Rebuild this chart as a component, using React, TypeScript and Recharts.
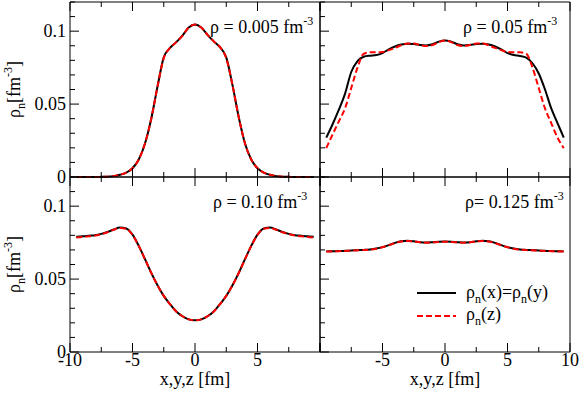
import React from 'react';
import { LineChart, Line, XAxis, YAxis, Legend } from 'recharts';

// sample positions along x (or z), fm
const positions = [
  -9.5, -9, -8.5, -8, -7.5, -7, -6.5, -6, -5.5, -5, -4.5, -4, -3.5, -3, -2.5, -2, -1.5, -1, -0.5, 0,
  0.5, 1, 1.5, 2, 2.5, 3, 3.5, 4, 4.5, 5, 5.5, 6, 6.5, 7, 7.5, 8, 8.5, 9, 9.5,
];

// rho = 0.005 fm^-3
const rho005X = [
  0, 0, 0, 0, 0.0001, 0.0002, 0.0006, 0.0015, 0.003, 0.006, 0.012, 0.023, 0.04, 0.062, 0.082, 0.0885, 0.0925, 0.097, 0.1025, 0.1045,
  0.1025, 0.0975, 0.093, 0.089, 0.082, 0.063, 0.041, 0.023, 0.012, 0.006, 0.003, 0.0015, 0.0006, 0.0002, 0.0001, 0, 0, 0, 0,
];
const rho005Z = [
  0, 0, 0, 0, 0.0001, 0.0002, 0.0006, 0.0015, 0.003, 0.006, 0.012, 0.023, 0.04, 0.062, 0.0815, 0.0885, 0.0925, 0.097, 0.1025, 0.1045,
  0.1025, 0.0975, 0.093, 0.089, 0.0815, 0.063, 0.041, 0.023, 0.012, 0.006, 0.003, 0.0015, 0.0006, 0.0002, 0.0001, 0, 0, 0, 0,
];

// rho = 0.05 fm^-3
const rho05X = [
  0.027, 0.036, 0.046, 0.057, 0.072, 0.0795, 0.0825, 0.0832, 0.0836, 0.085, 0.0875, 0.0895, 0.0908, 0.0914, 0.0912, 0.0905, 0.0902, 0.091, 0.0928, 0.0936,
  0.0928, 0.091, 0.0902, 0.0905, 0.0912, 0.0914, 0.0908, 0.0895, 0.0875, 0.085, 0.0836, 0.083, 0.0818, 0.078, 0.071, 0.06, 0.047, 0.037, 0.027,
];
const rho05Z = [
  0.0198, 0.029, 0.038, 0.047, 0.061, 0.075, 0.0845, 0.0855, 0.0855, 0.0857, 0.087, 0.0885, 0.0903, 0.0915, 0.0915, 0.0905, 0.0898, 0.0905, 0.0925, 0.0936,
  0.0925, 0.0905, 0.0898, 0.0905, 0.0915, 0.0915, 0.0903, 0.0885, 0.087, 0.0857, 0.0855, 0.0855, 0.0845, 0.075, 0.061, 0.047, 0.037, 0.027, 0.0198,
];

// rho = 0.10 fm^-3
const rho10X = [
  0.079, 0.0793, 0.0797, 0.0801, 0.081, 0.0823, 0.084, 0.0853, 0.0847, 0.0805, 0.0728, 0.0637, 0.0543, 0.0458, 0.0385, 0.0328, 0.0278, 0.0245, 0.0224, 0.0217,
  0.0224, 0.0245, 0.0278, 0.0328, 0.0385, 0.0458, 0.0543, 0.0637, 0.0728, 0.0805, 0.0847, 0.0853, 0.084, 0.0823, 0.081, 0.0801, 0.0797, 0.0793, 0.079,
];
const rho10Z = [
  0.0785, 0.0788, 0.0793, 0.0798, 0.0808, 0.0821, 0.0838, 0.085, 0.0845, 0.0803, 0.0727, 0.0636, 0.0542, 0.0457, 0.0385, 0.0328, 0.0278, 0.0245, 0.0224, 0.0217,
  0.0224, 0.0245, 0.0278, 0.0328, 0.0385, 0.0457, 0.0542, 0.0636, 0.0727, 0.0803, 0.0845, 0.085, 0.0838, 0.0821, 0.0808, 0.0798, 0.0793, 0.0788, 0.0785,
];

// rho = 0.125 fm^-3
const rho125X = [
  0.069, 0.0691, 0.0692, 0.0694, 0.0696, 0.0698, 0.07, 0.0703, 0.0709, 0.0719, 0.0733, 0.0748, 0.0759, 0.0763, 0.0759, 0.0753, 0.0751, 0.0753, 0.0756, 0.0757,
  0.0756, 0.0753, 0.0751, 0.0753, 0.0759, 0.0763, 0.0759, 0.0748, 0.0733, 0.0719, 0.0709, 0.0703, 0.07, 0.0698, 0.0696, 0.0694, 0.0692, 0.0691, 0.069,
];
const rho125Z = [
  0.0689, 0.069, 0.0691, 0.0693, 0.0695, 0.0697, 0.0699, 0.0702, 0.0708, 0.0718, 0.0732, 0.0747, 0.0758, 0.0762, 0.0758, 0.0752, 0.075, 0.0752, 0.0755, 0.0756,
  0.0755, 0.0752, 0.075, 0.0752, 0.0758, 0.0762, 0.0758, 0.0747, 0.0732, 0.0718, 0.0708, 0.0702, 0.0699, 0.0697, 0.0695, 0.0693, 0.0691, 0.069, 0.0689,
];

const xTicks = [-10, -7.5, -5, -2.5, 0, 2.5, 5, 7.5, 10];
const yTicks = [0, 0.01, 0.02, 0.03, 0.04, 0.05, 0.06, 0.07, 0.08, 0.09, 0.1, 0.11, 0.12];
const yLabelTicks = [0, 0.05, 0.1];
const xLabelsLeft = [-10, -5, 0, 5];
const xLabelsRight = [-5, 0, 5, 10];

const TXT = { fontFamily: '"Liberation Serif"' };
const FS = 18;
const SUB = 12;
// axes take 1px each, so the plot box is 250 x 175
const MARGIN = { top: 1, right: 10, bottom: 41, left: 69 };
const W = 331;
const H = 219;

const isMajor = (v: number, step: number) => Math.abs(v / step - Math.round(v / step)) < 1e-6;

const tickLen = (major: boolean) => (major ? 9 : 5);

const makeXTick = (side: 'top' | 'bottom', labels: number[]) => (props: any) => {
  const { x, y, payload } = props;
  const v = payload.value;
  const len = tickLen(isMajor(v, 5));
  const dir = side === 'bottom' ? -1 : 1;
  return (
    <g>
      <line x1={x} x2={x} y1={y} y2={y + dir * len} stroke="#000" strokeWidth={1} />
      {labels.some((l) => Math.abs(l - v) < 1e-6) && (
        <text x={x} y={y + 14} textAnchor="middle" style={TXT} fontSize={FS} fill="#000">
          {v}
        </text>
      )}
    </g>
  );
};

const makeYTick = (side: 'left' | 'right', showLabels: boolean) => (props: any) => {
  const { x, y, payload } = props;
  const v = payload.value;
  const len = tickLen(isMajor(v, 0.05));
  const dir = side === 'left' ? 1 : -1;
  const labelled = showLabels && yLabelTicks.some((l) => Math.abs(l - v) < 1e-6);
  return (
    <g>
      <line x1={x} x2={x + dir * len} y1={y} y2={y} stroke="#000" strokeWidth={1} />
      {labelled && (
        <text x={x - 4} y={y + 6} textAnchor="end" style={TXT} fontSize={FS} fill="#000">
          {String(v)}
        </text>
      )}
    </g>
  );
};

const makeTitle = (value: string, dx: number, sep: string) => (props: any) => {
  const vb = props.viewBox || { x: 70, y: 2 };
  return (
    <text x={vb.x + dx} y={vb.y + 32} style={TXT} fontSize={FS} fill="#000">
      {`ρ${sep}= ${value} fm`}
      <tspan fontSize={SUB} dy={-8}>-3</tspan>
    </text>
  );
};

const yAxisTitle = (props: any) => {
  const vb = props.viewBox || { x: 70, y: 0, height: 175 };
  const cx = vb.x - 49;
  const cy = vb.y + vb.height / 2;
  return (
    <text
      x={cx}
      y={cy}
      transform={`rotate(-90, ${cx}, ${cy})`}
      textAnchor="middle"
      style={TXT}
      fontSize={FS}
      fill="#000"
    >
      ρ<tspan fontSize={SUB} dy={5}>n</tspan>
      <tspan fontSize={FS} dy={-5}>[fm</tspan>
      <tspan fontSize={SUB} dy={-8}>-3</tspan>
      <tspan fontSize={FS} dy={8}>]</tspan>
    </text>
  );
};

const xAxisTitle = (props: any) => {
  const vb = props.viewBox || { x: 70, y: 177, width: 250 };
  return (
    <text x={vb.x + vb.width / 2} y={vb.y + 33} textAnchor="middle" style={TXT} fontSize={FS} fill="#000">
      x,y,z [fm]
    </text>
  );
};

const LegendBox = (props: any) => {
  const payload = props.payload || [];
  const solid = payload[0];
  const dashed = payload[1];
  return (
    <svg width={150} height={48} style={{ display: 'block', overflow: 'visible' }}>
      <line x1={5} x2={44} y1={13} y2={13} stroke={solid ? solid.color : '#000'} strokeWidth={2} />
      <line x1={5} x2={44} y1={36} y2={36} stroke={dashed ? dashed.color : '#f00'} strokeWidth={2} strokeDasharray="6 3" />
      <text x={54} y={18} style={TXT} fontSize={FS} fill="#000">
        ρ<tspan fontSize={SUB} dy={5}>n</tspan>
        <tspan fontSize={FS} dy={-5}>(x)=ρ</tspan>
        <tspan fontSize={SUB} dy={5}>n</tspan>
        <tspan fontSize={FS} dy={-5}>(y)</tspan>
      </text>
      <text x={54} y={40} style={TXT} fontSize={FS} fill="#000">
        ρ<tspan fontSize={SUB} dy={5}>n</tspan>
        <tspan fontSize={FS} dy={-5}>(z)</tspan>
      </text>
    </svg>
  );
};

type PanelProps = {
  left: number;
  top: number;
  xSeries: number[];
  zSeries: number[];
  title: string;
  titleDx: number;
  titleSep?: string;
  yLabels: boolean;
  xLabels: number[];
  bottomTitle: boolean;
  legend?: boolean;
};

const Panel: React.FC<PanelProps> = ({ left, top, xSeries, zSeries, title, titleDx, titleSep = ' ', yLabels, xLabels, bottomTitle, legend }) => {
  const data = positions.map((p, i) => ({ pos: p, xy: xSeries[i], z: zSeries[i] }));
  return (
    <div style={{ position: 'absolute', left, top, width: W, height: H }}>
      <LineChart width={W} height={H} data={data} margin={MARGIN}>
        <XAxis
          xAxisId="b"
          dataKey="pos"
          type="number"
          domain={[-10, 10]}
          ticks={xTicks}
          interval={0}
          height={1}
          tickSize={0}
          tickMargin={0}
          tickLine={false}
          axisLine={{ stroke: '#000', strokeWidth: 1 }}
          tick={makeXTick('bottom', xLabels)}
          label={bottomTitle ? xAxisTitle : undefined}
        />
        <XAxis
          xAxisId="t"
          orientation="top"
          dataKey="pos"
          type="number"
          domain={[-10, 10]}
          ticks={xTicks}
          interval={0}
          height={1}
          tickSize={0}
          tickMargin={0}
          tickLine={false}
          axisLine={{ stroke: '#000', strokeWidth: 1 }}
          tick={makeXTick('top', [])}
          label={makeTitle(title, titleDx, titleSep)}
        />
        <YAxis
          yAxisId="l"
          type="number"
          domain={[0, 0.12]}
          ticks={yTicks}
          interval={0}
          width={1}
          tickSize={0}
          tickMargin={0}
          tickLine={false}
          axisLine={{ stroke: '#000', strokeWidth: 1 }}
          tick={makeYTick('left', yLabels)}
          label={yLabels ? yAxisTitle : undefined}
        />
        <YAxis
          yAxisId="r"
          orientation="right"
          type="number"
          domain={[0, 0.12]}
          ticks={yTicks}
          interval={0}
          width={1}
          tickSize={0}
          tickMargin={0}
          tickLine={false}
          axisLine={{ stroke: '#000', strokeWidth: 1 }}
          tick={makeYTick('right', false)}
        />
        <Line
          xAxisId="b"
          yAxisId="l"
          type="monotone"
          dataKey="xy"
          name="rho_n(x)=rho_n(y)"
          stroke="#000000"
          strokeWidth={2}
          dot={false}
          isAnimationActive={false}
        />
        <Line
          xAxisId="b"
          yAxisId="l"
          type="monotone"
          dataKey="z"
          name="rho_n(z)"
          stroke="#ff0000"
          strokeWidth={2}
          strokeDasharray="6 3"
          dot={false}
          isAnimationActive={false}
        />
        {legend && (
          <Legend
            layout="vertical"
            align="center"
            verticalAlign="middle"
            content={LegendBox}
            wrapperStyle={{ position: 'absolute', left: 162, top: 105, width: 150, height: 48 }}
          />
        )}
      </LineChart>
    </div>
  );
};

export default function App() {
  return (
    <div style={{ position: 'absolute', left: 0, top: 0, width: 581, height: 394, background: '#fff', overflow: 'hidden' }}>
      <Panel left={0} top={0} xSeries={rho005X} zSeries={rho005Z} title="0.005" titleDx={140} yLabels xLabels={[]} bottomTitle={false} />
      <Panel left={250} top={0} xSeries={rho05X} zSeries={rho05Z} title="0.05" titleDx={143} yLabels={false} xLabels={[]} bottomTitle={false} />
      <Panel left={0} top={175} xSeries={rho10X} zSeries={rho10Z} title="0.10" titleDx={143} yLabels xLabels={xLabelsLeft} bottomTitle />
      <Panel left={250} top={175} xSeries={rho125X} zSeries={rho125Z} title="0.125" titleDx={145} titleSep="" yLabels={false} xLabels={xLabelsRight} bottomTitle legend />
    </div>
  );
}
